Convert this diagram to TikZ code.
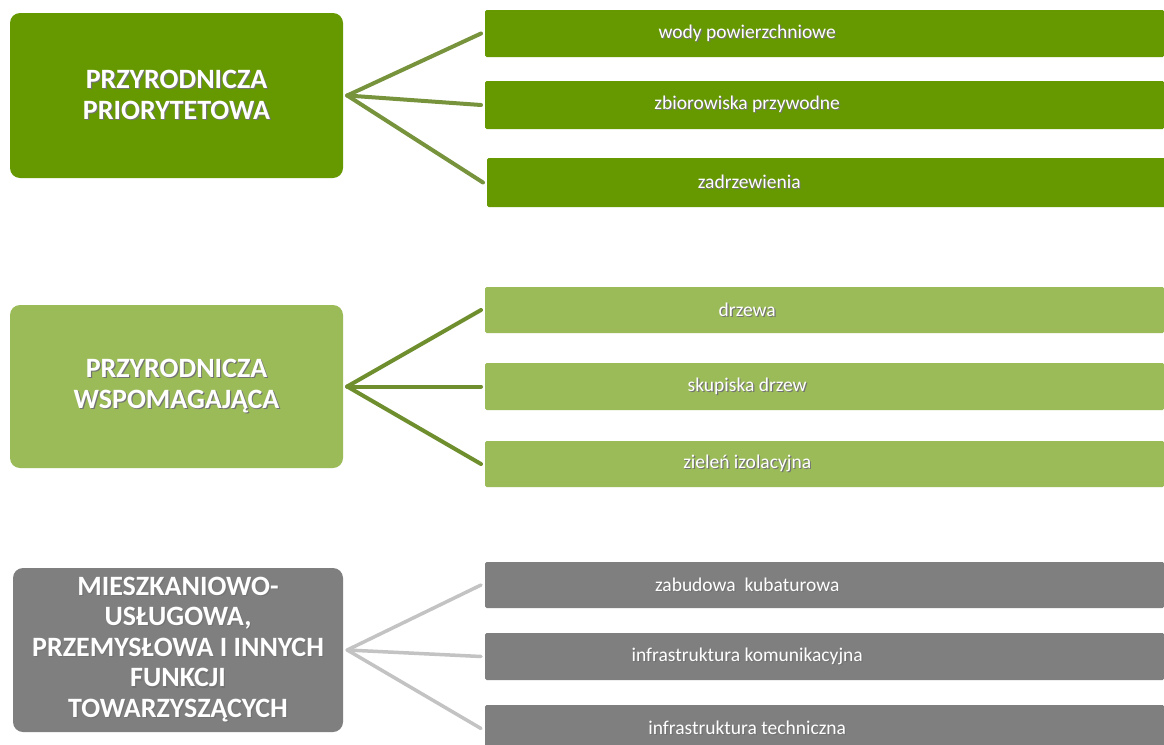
\documentclass[tikz,border=0pt]{standalone}
\usepackage{fontspec}
\setmainfont{Carlito}
\usetikzlibrary{calc}
\definecolor{dkgreen}{HTML}{669900}
\definecolor{ltgreen}{HTML}{9BBB59}
\definecolor{boxgray}{HTML}{7F7F7F}
\definecolor{olive1}{HTML}{77933C}
\definecolor{olive2}{HTML}{6F8F2F}
\definecolor{lgray}{HTML}{C3C3C3}
\newcommand\shtext[1]{\leavevmode\rlap{\kern1.2pt\raisebox{-1.2pt}{\textcolor{black!55}{#1}}}#1}
\newcommand\subtxt[1]{\makebox[679pt][l]{\makebox[524pt]{\shtext{#1}}}}
\begin{document}
\begin{tikzpicture}[x=1pt,y=-1pt,
  mainbox/.style={rounded corners=10pt, inner sep=0pt, align=center, text=white,
    font=\fontsize{28}{30.6}\selectfont\bfseries},
  subbox/.style={inner sep=0pt, anchor=west, text=white, rounded corners=1.5pt,
    font=\fontsize{19.5}{23}\selectfont},
  conn/.style={line width=4pt, line cap=round},
  connA/.style={conn, draw=olive1},
  connB/.style={conn, draw=olive2},
  connC/.style={conn, draw=lgray, line width=3.5pt}]
\useasboundingbox (0,0) rectangle (1164,744);
\fill[white] (0,0) rectangle (1164,744);

% group 1
\node[mainbox, fill=dkgreen, minimum width=333pt, minimum height=165pt] (m1) at (176.5,95.5)
  {\shtext{PRZYRODNICZA}\\\shtext{PRIORYTETOWA}};
\node[subbox, fill=dkgreen, minimum height=47pt] (a1) at (485,33.5) {\subtxt{wody powierzchniowe}};
\node[subbox, fill=dkgreen, minimum height=48pt] (a2) at (485,105) {\subtxt{zbiorowiska przywodne}};
\node[subbox, fill=dkgreen, minimum height=49pt] (a3) at (487,182.5) {\subtxt{zadrzewienia}};
\coordinate (j1) at ($(m1.east)+(4,0)$);
\foreach \t in {a1,a2,a3} \draw[connA] (j1) -- ($(\t.west)+(-4,0)$);

% group 2
\node[mainbox, fill=ltgreen, minimum width=333pt, minimum height=163pt] (m2) at (176.5,386.5)
  {\shtext{PRZYRODNICZA}\\\shtext{WSPOMAGAJĄCA}};
\node[subbox, fill=ltgreen, minimum height=46pt] (b1) at (485,310) {\subtxt{drzewa}};
\node[subbox, fill=ltgreen, minimum height=47pt] (b2) at (485,386.5) {\subtxt{skupiska drzew}};
\node[subbox, fill=ltgreen, minimum height=46pt] (b3) at (485,464) {\subtxt{zieleń izolacyjna}};
\coordinate (j2) at ($(m2.east)+(4,0)$);
\foreach \t in {b1,b2,b3} \draw[connB] (j2) -- ($(\t.west)+(-4,0)$);

% group 3
\node[mainbox, fill=boxgray, minimum width=330pt, minimum height=164pt] (m3) at (178,650)
  {\shtext{MIESZKANIOWO-}\\\shtext{USŁUGOWA,}\\\shtext{PRZEMYSŁOWA I INNYCH}\\\shtext{FUNKCJI}\\\shtext{TOWARZYSZĄCYCH}};
\node[subbox, fill=boxgray, minimum height=46pt] (c1) at (485,585) {\subtxt{zabudowa\ \ kubaturowa}};
\node[subbox, fill=boxgray, minimum height=47pt] (c2) at (485,656.5) {\subtxt{infrastruktura komunikacyjna}};
\node[subbox, fill=boxgray, minimum height=47pt] (c3) at (485,728.5) {\subtxt{infrastruktura techniczna}};
\coordinate (j3) at ($(m3.east)+(4,0)$);
\foreach \t in {c1,c2,c3} \draw[connC] (j3) -- ($(\t.west)+(-4,0)$);
\end{tikzpicture}
\end{document}
